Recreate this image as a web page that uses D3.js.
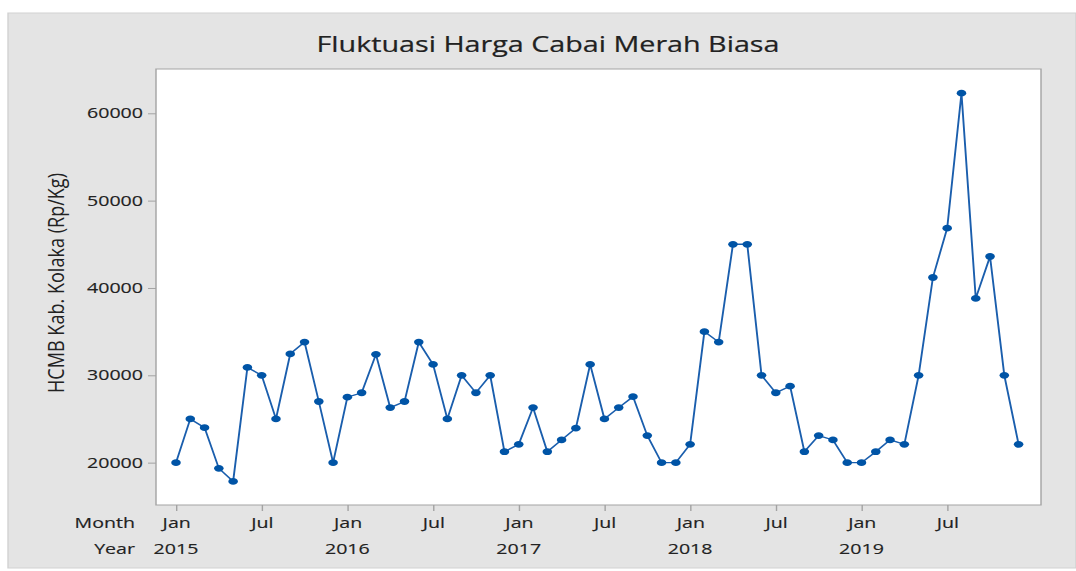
<!DOCTYPE html>
<html>
<head>
<meta charset="utf-8">
<script src="https://cdn.jsdelivr.net/npm/d3@7"></script>
<style>
  html, body { margin: 0; padding: 0; background: #fff; }
  svg { display: block; }
  text { font-family: "Open Sans", "Noto Sans", sans-serif; fill: #222; }
</style>
</head>
<body>
<svg id="chart"></svg>
<script>
const width = 1076;
const height = 571;

// the reference is a horizontally stretched screenshot, so draw narrow and stretch
const SX = 1.4;
const X = px => px / SX;

const title = "Fluktuasi Harga Cabai Merah Biasa";
const yLabel = "HCMB Kab. Kolaka (Rp/Kg)";

const years = ["2015", "2016", "2017", "2018", "2019"];
const monthTicks = [0, 6, 12, 18, 24, 30, 36, 42, 48, 54];
const monthTickLabels = ["Jan", "Jul", "Jan", "Jul", "Jan", "Jul", "Jan", "Jul", "Jan", "Jul"];
const yTicks = [20000, 30000, 40000, 50000, 60000];

// monthly price, Jan 2015 - Dec 2019
const prices2015 = [20000, 25000, 24000, 19350, 17850, 30900, 30000, 25000, 32450, 33800, 27000, 20000];
const prices2016 = [27500, 28000, 32400, 26300, 27000, 33800, 31250, 25000, 30000, 28000, 30000, 21250];
const prices2017 = [22100, 26300, 21250, 22600, 23950, 31250, 25000, 26300, 27550, 23100, 20000, 20000];
const prices2018 = [22100, 35000, 33800, 45000, 45000, 30000, 28000, 28750, 21250, 23100, 22600, 20000];
const prices2019 = [20000, 21250, 22600, 22100, 30000, 41200, 46850, 62300, 38800, 43600, 30000, 22100];

const prices = [...prices2015, ...prices2016, ...prices2017, ...prices2018, ...prices2019];

const svg = d3.select("#chart")
    .attr("width", width)
    .attr("height", height)
    .attr("viewBox", `0 0 ${X(width)} ${height}`)
    .attr("preserveAspectRatio", "none");

// outer gray panel
svg.append("rect")
    .attr("x", X(8)).attr("y", 13)
    .attr("width", X(width - 8)).attr("height", 555)
    .attr("fill", "#e4e4e4")
    .attr("stroke", "#d2d2d2")
    .attr("stroke-width", 1);

const plot = { left: 156, right: 1041, top: 69, bottom: 505 };

svg.append("rect")
    .attr("x", X(plot.left)).attr("y", plot.top)
    .attr("width", X(plot.right - plot.left)).attr("height", plot.bottom - plot.top)
    .attr("fill", "#fff")
    .attr("stroke", "#a3a3a3")
    .attr("stroke-width", 1);

const x = d3.scaleLinear()
    .domain([0, prices.length - 1])
    .range([X(176), X(1018.6)]);

const y = d3.scaleLinear()
    .domain([15150, 65070])
    .range([plot.bottom, plot.top]);

// y axis
const yAxis = svg.append("g")
    .attr("transform", `translate(${X(plot.left)},0)`)
    .call(d3.axisLeft(y).tickValues(yTicks).tickFormat(d3.format("d")).tickSize(X(8)).tickPadding(X(5)));
yAxis.select(".domain").remove();
yAxis.selectAll("line").attr("stroke", "#a3a3a3");
yAxis.selectAll("text")
    .style("font-size", "14px")
    .style("font-family", "'Open Sans', sans-serif")
    .attr("fill", "#1e1e1e")
    .attr("stroke", "#1e1e1e").attr("stroke-width", 0.15);

// x axis (months)
const xAxis = svg.append("g")
    .attr("transform", `translate(0,${plot.bottom})`)
    .call(d3.axisBottom(x).tickValues(monthTicks).tickFormat((d, i) => monthTickLabels[i]).tickSize(6).tickPadding(7));
xAxis.select(".domain").remove();
xAxis.selectAll("line").attr("stroke", "#a3a3a3");
xAxis.selectAll("text")
    .style("font-size", "14px")
    .style("font-family", "'Open Sans', sans-serif")
    .attr("fill", "#1e1e1e")
    .attr("stroke", "#1e1e1e").attr("stroke-width", 0.15);

// year row
svg.append("g")
    .selectAll("text")
    .data(years)
    .join("text")
    .attr("x", (d, i) => x(i * 12))
    .attr("y", 554)
    .attr("text-anchor", "middle")
    .style("font-size", "14px")
    .attr("stroke", "#1e1e1e").attr("stroke-width", 0.15)
    .text(d => d);

svg.append("text")
    .attr("x", X(135)).attr("y", 528)
    .attr("text-anchor", "end")
    .style("font-size", "14px")
    .attr("stroke", "#1e1e1e").attr("stroke-width", 0.15)
    .text("Month");

svg.append("text")
    .attr("x", X(135)).attr("y", 554)
    .attr("text-anchor", "end")
    .style("font-size", "14px")
    .attr("stroke", "#1e1e1e").attr("stroke-width", 0.15)
    .text("Year");

// title
svg.append("text")
    .attr("x", X(548)).attr("y", 52)
    .attr("text-anchor", "middle")
    .style("font-size", "22px")
    .attr("fill", "#1a1a1a")
    .attr("stroke", "#1a1a1a").attr("stroke-width", 0.2)
    .attr("textLength", X(463))
    .attr("lengthAdjust", "spacingAndGlyphs")
    .text(title);

// y label
svg.append("text")
    .attr("transform", `translate(${X(64)},283) rotate(-90)`)
    .attr("text-anchor", "middle")
    .style("font-size", "16px")
    .attr("textLength", 220)
    .attr("lengthAdjust", "spacingAndGlyphs")
    .text(yLabel);

// series
const line = d3.line()
    .x((d, i) => x(i))
    .y(d => y(d));

svg.append("path")
    .datum(prices)
    .attr("fill", "none")
    .attr("stroke", "#1a5ead")
    .attr("stroke-width", 1.35)
    .attr("d", line);

svg.append("g")
    .selectAll("circle")
    .data(prices)
    .join("circle")
    .attr("cx", (d, i) => x(i))
    .attr("cy", d => y(d))
    .attr("r", 3.4)
    .attr("fill", "#0054a6");
</script>
</body>
</html>
